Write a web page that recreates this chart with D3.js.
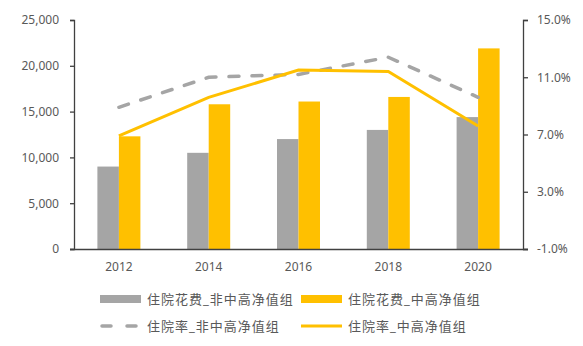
<!DOCTYPE html>
<html><head><meta charset="utf-8">
<script src="https://cdn.jsdelivr.net/npm/d3@7"></script>
<style>
html,body{margin:0;padding:0;background:#fff;}
text{font-family:"Noto Sans","Noto Sans CJK SC",sans-serif;fill:#595959;}
</style></head>
<body><svg id="c" width="583" height="346"></svg>
<script>
const years = ["2012","2014","2016","2018","2020"];
const costNonHigh = [9000,10500,12000,13000,14400];
const costHigh = [12300,15800,16100,16600,21900];
const rateNonHigh = [8.9,11.0,11.2,12.4,9.6];
const rateHigh = [6.9,9.6,11.5,11.4,7.6];
const leftTicks = [0,5000,10000,15000,20000,25000];
const rightTicks = [-1,3,7,11,15];
const seriesNames = ["住院花费_非中高净值组","住院花费_中高净值组","住院率_非中高净值组","住院率_中高净值组"];

const grey="#A5A5A5", gold="#FFC000", axisCol="#404040";
const svg=d3.select("#c");
const L=74, R=523, T=20, B=249;
const x=d3.scaleBand().domain(years).range([L,R]);
const yL=d3.scaleLinear().domain([0,25000]).range([B,T]);
const yR=d3.scaleLinear().domain([-1,15]).range([B,T]);
const bw=21.5;

// bars
const g=svg.append("g");
g.selectAll(".b1").data(years).enter().append("rect")
 .attr("x",d=>x(d)+x.bandwidth()/2-bw).attr("width",bw)
 .attr("y",(d,i)=>yL(costNonHigh[i])).attr("height",(d,i)=>B-yL(costNonHigh[i]))
 .attr("fill",grey);
g.selectAll(".b2").data(years).enter().append("rect")
 .attr("x",d=>x(d)+x.bandwidth()/2).attr("width",bw)
 .attr("y",(d,i)=>yL(costHigh[i])).attr("height",(d,i)=>B-yL(costHigh[i]))
 .attr("fill",gold);

// lines
const line=arr=>d3.line().x((d,i)=>x(years[i])+x.bandwidth()/2).y(d=>yR(d))(arr);
svg.append("path").attr("d",line(rateNonHigh)).attr("fill","none")
 .attr("stroke",grey).attr("stroke-width",3.5).attr("stroke-dasharray","10,13")
 .attr("stroke-linecap","round");
svg.append("path").attr("d",line(rateHigh)).attr("fill","none")
 .attr("stroke",gold).attr("stroke-width",3);

// axes
const ax1=svg.append("g").attr("transform",`translate(${L},0)`)
 .call(d3.axisLeft(yL).tickValues(leftTicks).tickSize(4).tickPadding(11).tickFormat(d3.format(",")));
const ax2=svg.append("g").attr("transform",`translate(${R},0)`)
 .call(d3.axisRight(yR).tickValues(rightTicks).tickSize(5).tickPadding(9).tickFormat(d=>d.toFixed(1)+"%"));
const ax3=svg.append("g").attr("transform",`translate(0,${B})`)
 .call(d3.axisBottom(x).tickSize(0).tickPadding(13));
[ax1,ax2,ax3].forEach(a=>{
 a.selectAll("path,line").attr("stroke",axisCol).attr("stroke-width",1.3);
 a.selectAll("text").style("font-size","12px").attr("fill","#595959");
});
ax3.select("path").attr("d",`M${L-4},0.5H${R+5}`);

// legend
const lg=svg.append("g");
const items=[
 {x:100,y:299,type:"rect",c:grey},
 {x:301,y:299,type:"rect",c:gold},
 {x:100,y:326,type:"dash",c:grey},
 {x:301,y:326,type:"line",c:gold}];
items.forEach((it,i)=>{
 if(it.type==="rect") lg.append("rect").attr("x",it.x).attr("y",it.y-4).attr("width",41).attr("height",8).attr("fill",it.c);
 else if(it.type==="dash") lg.append("line").attr("x1",it.x+2).attr("x2",it.x+39).attr("y1",it.y).attr("y2",it.y)
   .attr("stroke",it.c).attr("stroke-width",3.5).attr("stroke-dasharray","9,16").attr("stroke-linecap","round");
 else lg.append("line").attr("x1",it.x).attr("x2",it.x+41).attr("y1",it.y).attr("y2",it.y)
   .attr("stroke",it.c).attr("stroke-width",3);
 lg.append("text").attr("x",it.x+47).attr("y",it.y).attr("dy","0.35em")
   .style("font-size","13px").style("letter-spacing","1px").text(seriesNames[i]);
});
</script></body></html>
